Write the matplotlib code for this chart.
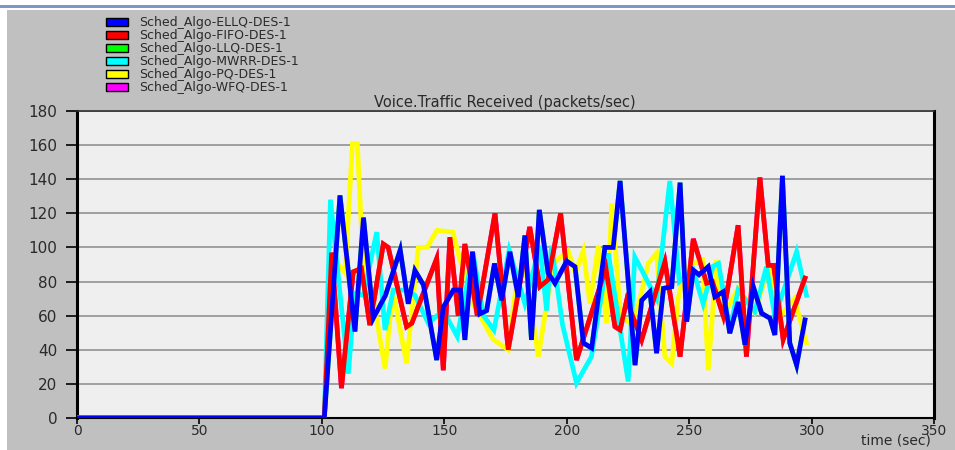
import matplotlib
matplotlib.use("Agg")
import matplotlib.pyplot as plt
from matplotlib.patches import Rectangle, Patch

# sample times (sec) and received voice traffic (packets/sec) per scheduler
t_ellq = [0, 101, 107.4, 113.5, 117, 121, 126, 132, 135.3, 138, 141.5, 146.9, 149.6, 153.7,
          156.6, 158.4, 161.5, 164.5, 167.3, 170.5, 173.4, 176.8, 180.2, 182.9, 185.6, 188.8,
          192.4, 195.2, 200, 203.4, 206.8, 210.2, 215.6, 219, 221.8, 227.9, 230.6, 234, 236.7,
          239.5, 242.9, 246.3, 249, 251.7, 254, 257.8, 260.5, 263.9, 266.6, 270, 272.8, 276.2,
          279.6, 283, 285, 288.1, 291.1, 293.9, 297.3]
v_ellq = [0, 0, 130.5, 50.7, 117.5, 58.5, 72, 98.5, 67, 86.5, 78, 34, 65, 75,
          75, 45.8, 97.5, 61, 63, 90.6, 69, 97.5, 71, 107, 45.8, 122,
          85, 79, 92, 88.7, 44, 41, 100, 100, 139, 31, 69, 74, 38,
          76, 77, 138, 56.5, 86.7, 84, 88.7, 71, 74, 49.7, 68, 43, 77,
          61.4, 58.5, 48.7, 142, 44, 31, 57.5]

t_fifo = [0, 101, 104, 108, 112.8, 116.2, 119.6, 125.1, 127.1, 134.6, 136.7, 146.9, 149.6,
          152.3, 155.7, 158.4, 163.5, 170.7, 176.1, 184.9, 189, 192.4, 197.5, 204, 216, 219.7,
          221.8, 224.5, 230.6, 240.1, 246.3, 251.7, 257.1, 259.5, 263.9, 270, 273.4, 278.9,
          282.3, 284.5, 288.4, 297.3]
v_fifo = [0, 0, 97, 17.5, 85.7, 87.7, 54.5, 102, 100, 53.5, 55.5, 93.5, 28,
          106, 60, 102, 60, 120, 40, 112, 77, 81, 120, 34, 88, 53.6,
          51.6, 69, 45.8, 91.6, 36, 105, 79, 80, 60, 113, 36, 141,
          89.5, 89.5, 46, 82]

t_mwrr = [0, 101, 103.5, 110.8, 113.5, 117, 122.4, 125.8, 129.2, 134, 138, 143.5, 147, 150,
          155.3, 161.7, 166, 170.3, 176.5, 182.9, 189, 191.8, 193.8, 198.3, 204, 210.1, 217,
          225.1, 227.8, 236.7, 242.1, 246, 251.6, 255.7, 259.8, 262, 266.6, 270, 276.8, 281.6,
          285, 293.9, 297.9]
v_mwrr = [0, 0, 128, 26, 73, 72, 109, 51.6, 75, 75, 72, 55.5, 60, 62,
          47.8, 97, 60, 51.6, 98.4, 67, 101, 63, 101, 54.6, 20.5, 36, 96.5,
          21.4, 94.5, 70, 139, 80, 87, 67, 89, 90.6, 51.6, 75, 62.4, 88.7,
          59.5, 97.5, 72]

t_pq = [0, 101, 104, 109.5, 112.5, 114.5, 117, 121, 125.8, 129, 134.6, 139.4, 143, 147,
        153.5, 156.4, 158.5, 161.8, 170, 176.1, 179.5, 183, 188.4, 194.5, 200.6, 203.5, 206.8,
        209.5, 212.9, 216.3, 218.4, 222, 226.5, 230, 233.3, 236.7, 240.1, 242.9, 245.5, 248.5,
        251.7, 255.5, 257.8, 261.2, 264, 270, 276.8, 282.3, 287.5, 293, 297.9]
v_pq = [0, 0, 95, 85, 160.8, 160.8, 85, 70, 29, 75, 32, 100, 100, 110,
        109, 92.6, 85, 67, 46, 40, 79, 90, 36, 90.6, 98, 85, 98,
        67, 101, 55.5, 125.7, 60, 55, 70, 90.6, 96.5, 36, 32, 70, 88,
        90.6, 92.6, 28, 92.6, 60, 76, 62, 88, 60, 70, 44]

# LLQ and WFQ sit underneath the ELLQ and FIFO traces
t_llq, v_llq = t_ellq, v_ellq
t_wfq, v_wfq = t_fifo, v_fifo

labels = ["Sched_Algo-ELLQ-DES-1", "Sched_Algo-FIFO-DES-1", "Sched_Algo-LLQ-DES-1",
          "Sched_Algo-MWRR-DES-1", "Sched_Algo-PQ-DES-1", "Sched_Algo-WFQ-DES-1"]
colors = ["#0000ff", "#ff0000", "#00ff00", "#00ffff", "#ffff00", "#ff00ff"]

yticks = list(range(0, 181, 20))
xticks = list(range(0, 351, 50))

txt = "#2a2a2a"
plt.rcParams["font.family"] = ["DejaVu Sans"]

fig = plt.figure(figsize=(9.55, 4.5), dpi=100, facecolor="white")

# grey panel and the thin blue strip on top
fig.add_artist(Rectangle((7 / 955, 0), 1, 1 - 10 / 450, transform=fig.transFigure,
                         facecolor="#c0c0c0", edgecolor="none", zorder=0))
fig.add_artist(Rectangle((0, 1 - 8 / 450), 1, 3 / 450, transform=fig.transFigure,
                         facecolor="#7d97c6", edgecolor="none", zorder=0))

ax = fig.add_axes([77 / 955, 32 / 450, 857 / 955, 307 / 450])
ax.set_facecolor("#efefef")

series = [(t_llq, v_llq, colors[2]), (t_wfq, v_wfq, colors[5]), (t_pq, v_pq, colors[4]),
          (t_mwrr, v_mwrr, colors[3]), (t_fifo, v_fifo, colors[1]), (t_ellq, v_ellq, colors[0])]
for t, v, c in series:
    ax.plot(t, v, color=c, lw=3.4, solid_joinstyle="miter", zorder=3)

ax.set_xlim(0, 350)
ax.set_ylim(0, 180)
ax.set_yticks(yticks)
ax.set_xticks(xticks)
ax.yaxis.grid(True, color="#8a8a8a", lw=1.1)
ax.set_axisbelow(True)
ax.tick_params(axis="y", length=8, width=1.2, pad=6, labelsize=11, labelcolor=txt)
ax.tick_params(axis="x", length=4, width=1.2, pad=0, labelsize=10, labelcolor=txt)
for side, w, c in [("left", 2.2, "black"), ("right", 2.2, "black"),
                   ("top", 1.2, "#303030"), ("bottom", 1.5, "black")]:
    ax.spines[side].set_linewidth(w)
    ax.spines[side].set_color(c)

fig.text(505 / 955, 1 - 102 / 450, "Voice.Traffic Received (packets/sec)",
         ha="center", va="center", fontsize=10.5, color=txt)
fig.text(931 / 955, 1 - 441 / 450, "time (sec)", ha="right", va="center",
         fontsize=10, color=txt)

handles = [Patch(facecolor=c, edgecolor="black", lw=1) for c in colors]
fig.legend(handles, labels, loc="upper left", bbox_to_anchor=(100 / 955, 1 - 10 / 450),
           frameon=False, fontsize=9, labelspacing=0.0, handlelength=1.7,
           handleheight=0.6, handletextpad=0.9, borderpad=0, labelcolor=txt)

fig.savefig("out.png", dpi=100)
